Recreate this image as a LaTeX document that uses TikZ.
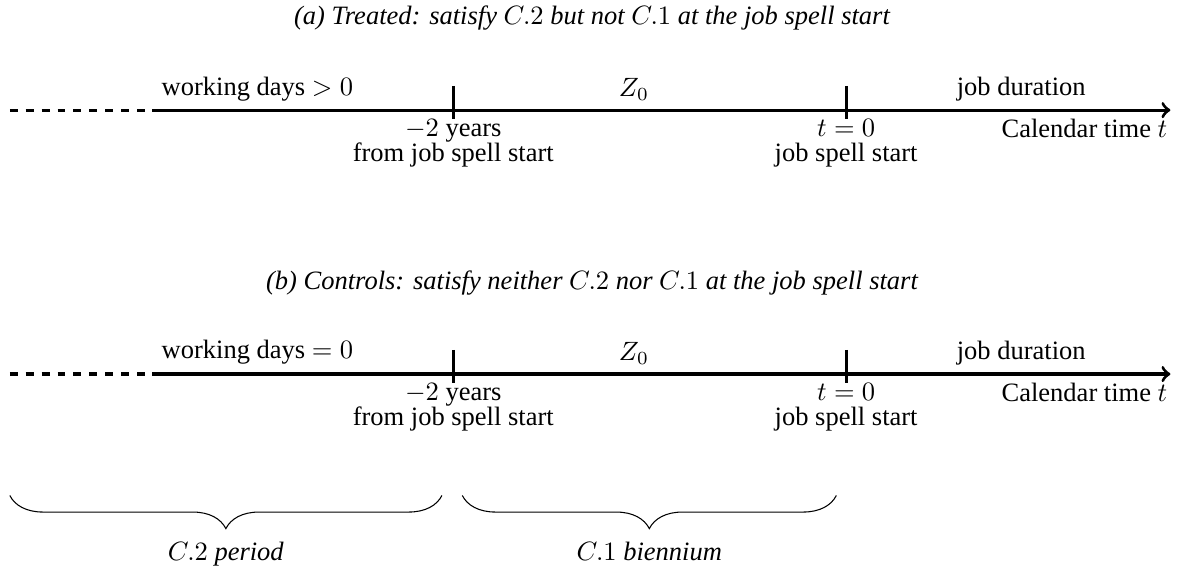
\documentclass[tikz,border=0pt]{standalone}
\usepackage{amsmath}
\usepackage{fontspec}
\setmainfont{Liberation Serif}
\usepackage{tikz}
\usetikzlibrary{calc}
\usetikzlibrary{arrows}
\usetikzlibrary{positioning}
\usetikzlibrary{decorations.pathreplacing}

\begin{document}
\begin{tikzpicture}
  \tikzset{myline/.style={very thick}};
  \tikzset{mytick/.style={very thick}};
  \tikzset{mytitle/.style={font=\itshape}};
  \tikzset{mybrace/.style={decorate, decoration={brace, mirror, amplitude=12.5pt}}};
  \useasboundingbox (0,0) rectangle (15.70,-7.56);

  % (a) treated
  \node[mytitle] (ta) at (7.85,-0.24) {(a) Treated: satisfy $C.2$ but not $C.1$ at the job spell start};
  \coordinate (a0) at (0.13,-1.46);  \coordinate (a1) at (2.02,-1.46);
  \coordinate (a2) at (6.01,-1.46);  \coordinate (a3) at (11.22,-1.46);
  \coordinate (a4) at (15.52,-1.46);
  \draw [myline, dashed] (a0) -- (a1);
  \draw [myline, ->] (a1) -- (a4);
  \draw [mytick] ($(a2)+(0,0.32)$) -- ($(a2)+(0,-0.12)$);
  \draw [mytick] ($(a3)+(0,0.32)$) -- ($(a3)+(0,-0.12)$);
  \node[above right] (wa) at (a1) {working days $>0$};
  \node[above] (za) at ($(a2)!.46!(a3)$) {$Z_0$};
  \node[above] (da) at ($(a3)!.54!(a4)$) {job duration};
  \node[below, align=center] (ya) at (a2) {$-2$ years\\[-2.5pt]from job spell start};
  \node[below, align=center] (sa) at (a3) {$t=0$\\[-2.5pt]job spell start};
  \node[below left, inner xsep=1pt] (ca) at (a4) {Calendar time $t$};

  % (b) controls
  \node[mytitle] (tb) at (7.85,-3.75) {(b) Controls: satisfy neither $C.2$ nor $C.1$ at the job spell start};
  \coordinate (b0) at (0.13,-4.96);  \coordinate (b1) at (2.02,-4.96);
  \coordinate (b2) at (6.01,-4.96);  \coordinate (b3) at (11.22,-4.96);
  \coordinate (b4) at (15.52,-4.96);
  \draw [myline, dashed] (b0) -- (b1);
  \draw [myline, ->] (b1) -- (b4);
  \draw [mytick] ($(b2)+(0,0.32)$) -- ($(b2)+(0,-0.12)$);
  \draw [mytick] ($(b3)+(0,0.32)$) -- ($(b3)+(0,-0.12)$);
  \node[above right] (wb) at (b1) {working days $=0$};
  \node[above] (zb) at ($(b2)!.46!(b3)$) {$Z_0$};
  \node[above] (db) at ($(b3)!.54!(b4)$) {job duration};
  \node[below, align=center] (yb) at (b2) {$-2$ years\\[-2.5pt]from job spell start};
  \node[below, align=center] (sb) at (b3) {$t=0$\\[-2.5pt]job spell start};
  \node[below left, inner xsep=1pt] (cb) at (b4) {Calendar time $t$};

  % periods
  \coordinate (c0) at (0.13,-6.57);  \coordinate (c1) at (5.86,-6.57);
  \coordinate (c2) at (6.13,-6.57);  \coordinate (c3) at (11.09,-6.57);
  \draw [mybrace] (c0) -- (c1) node [midway, below=14pt] (p2) {$C.2$ \textit{period}};
  \draw [mybrace] (c2) -- (c3) node [midway, below=14pt] (p1) {$C.1$ \textit{biennium}};
\end{tikzpicture}
\end{document}
